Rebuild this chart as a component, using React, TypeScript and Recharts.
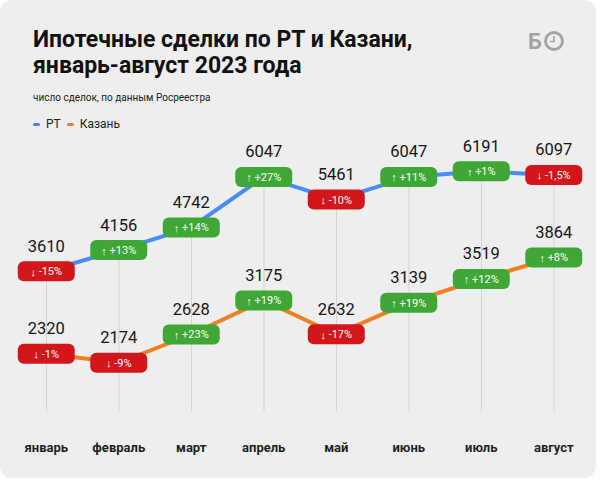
import { Bar, ComposedChart, Line, XAxis, YAxis } from "recharts";

const months = ["январь", "февраль", "март", "апрель", "май", "июнь", "июль", "август"];
const rtDeals = [3610, 4156, 4742, 6047, 5461, 6047, 6191, 6097];
const kazanDeals = [2320, 2174, 2628, 3175, 2632, 3139, 3519, 3864];
const rtChange = ["-15%", "+13%", "+14%", "+27%", "-10%", "+11%", "+1%", "-1,5%"];
const kazanChange = ["-1%", "-9%", "+23%", "+19%", "-17%", "+19%", "+12%", "+8%"];

const series = [
  { key: "rt", name: "РТ", color: "#4a8cf6" },
  { key: "kazan", name: "Казань", color: "#f07f22" },
];

const data = months.map((month, i) => ({
  month,
  rt: rtDeals[i],
  kazan: kazanDeals[i],
}));

const GREEN = "#3ea735";
const RED = "#d3161c";

// number above, coloured badge with the change on the point itself
function badgeDot(values: number[], changes: string[]) {
  return (props: any) => {
    const { cx, cy, index } = props;
    const change = changes[index];
    const up = change.startsWith("+");
    return (
      <g key={`badge-${index}`}>
        <text
          x={cx}
          y={cy - 25}
          textAnchor="middle"
          dominantBaseline="central"
          fontSize={16.5}
          fill="#161616"
        >
          {values[index]}
        </text>
        <rect
          x={cx - 28.5}
          y={cy - 10}
          width={57}
          height={20}
          rx={6}
          fill={up ? GREEN : RED}
        />
        <text
          x={cx}
          y={cy + 0.5}
          textAnchor="middle"
          dominantBaseline="central"
          fontSize={11}
          fill="#ffffff"
        >
          <tspan fontWeight={700}>{up ? "↑" : "↓"}</tspan> {change}
        </text>
      </g>
    );
  };
}

function Logo() {
  return (
    <svg width={44} height={24} style={{ position: "absolute", left: 527, top: 30 }}>
      <text x={1} y={19} fontSize={22} fontWeight={700} fill="#a3a3a3">
        Б
      </text>
      <circle cx={27} cy={11} r={8.5} fill="none" stroke="#a3a3a3" strokeWidth={2.8} />
      <path d="M27 6 V11.5 H23" fill="none" stroke="#a3a3a3" strokeWidth={1.6} />
    </svg>
  );
}

export default function App() {
  return (
    <div
      style={{
        position: "absolute",
        left: 0,
        top: 0,
        width: 600,
        height: 480,
        background: "#ffffff",
        fontFamily: "Roboto, 'Noto Sans', sans-serif",
      }}
    >
      <div
        style={{
          position: "absolute",
          left: 0,
          top: 0,
          width: 596,
          height: 478,
          borderRadius: 12,
          background: "#eeeeee",
          overflow: "hidden",
        }}
      >
        <div
          style={{
            position: "absolute",
            left: 33,
            top: 27,
            fontSize: 23,
            fontWeight: 700,
            lineHeight: "26px",
            color: "#111",
          }}
        >
          Ипотечные сделки по РТ и Казани,
          <br />
          январь-август 2023 года
        </div>
        <Logo />
        <div
          style={{
            position: "absolute",
            left: 33,
            top: 92,
            fontSize: 10,
            color: "#222",
          }}
        >
          число сделок, по данным Росреестра
        </div>
        <div
          style={{
            position: "absolute",
            left: 33,
            top: 117,
            display: "flex",
            alignItems: "center",
            gap: 6,
            fontSize: 12,
            color: "#222",
          }}
        >
          {series.map((s) => (
            <span key={s.key} style={{ display: "flex", alignItems: "center", gap: 6 }}>
              <span style={{ width: 7, height: 3, borderRadius: 2, background: s.color }} />
              {s.name}
            </span>
          ))}
        </div>
        <div style={{ position: "absolute", left: 0, top: 0 }}>
          <ComposedChart
            width={600}
            height={480}
            data={data}
            margin={{ top: 140, right: 10, bottom: 29, left: 10 }}
          >
            <XAxis
              dataKey="month"
              axisLine={false}
              tickLine={false}
              interval={0}
              height={40}
              tickMargin={26}
              tick={{ fontSize: 13, fontWeight: 700, fill: "#1f1f1f" }}
            />
            <YAxis yAxisId="rt" domain={[0, 7000]} hide />
            <YAxis yAxisId="kazan" domain={[1400, 5750]} hide />
            {/* thin bars from the bottom to each РТ point act as the vertical guides */}
            <Bar
              dataKey="rt"
              yAxisId="rt"
              barSize={1}
              fill="#d4d4d4"
              isAnimationActive={false}
            />
            <Line
              dataKey="rt"
              yAxisId="rt"
              stroke={series[0].color}
              strokeWidth={4}
              dot={badgeDot(rtDeals, rtChange)}
              activeDot={false}
              isAnimationActive={false}
            />
            <Line
              dataKey="kazan"
              yAxisId="kazan"
              stroke={series[1].color}
              strokeWidth={4}
              dot={badgeDot(kazanDeals, kazanChange)}
              activeDot={false}
              isAnimationActive={false}
            />
          </ComposedChart>
        </div>
      </div>
    </div>
  );
}
